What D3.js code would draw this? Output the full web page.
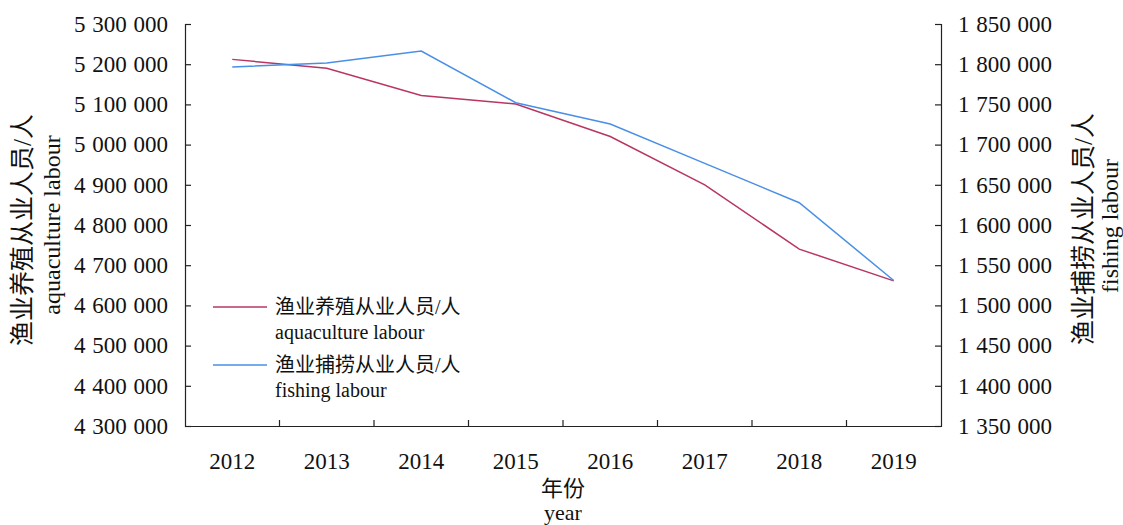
<!DOCTYPE html>
<html>
<head>
<meta charset="utf-8">
<script src="https://cdn.jsdelivr.net/npm/d3@7"></script>
<style>
    body { margin: 0; background: #fff; }
    text { font-family: "Liberation Serif", "Noto Sans CJK SC", serif; fill: #111; }
    .axis .domain, .axis line { stroke: #222; stroke-width: 1.2; }
    .axis text { font-size: 23px; word-spacing: 1px; }
</style>
</head>
<body>
<svg></svg>
<script>
'use strict';

var years = ["2012", "2013", "2014", "2015", "2016", "2017", "2018", "2019"];
var aquaculture = [5212000, 5190000, 5122000, 5101000, 5020000, 4900000, 4740000, 4661000];
var fishing = [1796500, 1801500, 1816400, 1752100, 1725600, 1676700, 1627700, 1531000];
var leftTicks = [4300000, 4400000, 4500000, 4600000, 4700000, 4800000, 4900000, 5000000, 5100000, 5200000, 5300000];
var rightTicks = [1350000, 1400000, 1450000, 1500000, 1550000, 1600000, 1650000, 1700000, 1750000, 1800000, 1850000];

var svgWidth = 1123,
    svgHeight = 525;
var margin = { top: 24, right: 182, bottom: 99, left: 185 };
var width = svgWidth - margin.left - margin.right;
var height = svgHeight - margin.top - margin.bottom;

var svg = d3.select("svg")
    .attr("width", svgWidth)
    .attr("height", svgHeight);

var g = svg.append("g")
    .attr("transform", "translate(" + margin.left + "," + margin.top + ")");

var x = d3.scaleBand().domain(years).range([0, width]);
var yLeft = d3.scaleLinear().domain([4300000, 5300000]).range([height, 0]);
var yRight = d3.scaleLinear().domain([1350000, 1850000]).range([height, 0]);

// numbers like 5 300 000
var fmt = function (d) { return d3.format(",")(d).replace(/,/g, " "); };

// bottom axis: ticks sit between the years
var xAxis = g.append("g")
    .attr("class", "axis x")
    .attr("transform", "translate(0," + height + ")")
    .call(d3.axisBottom(x).tickSize(0).tickPadding(27));
xAxis.selectAll(".tick text").style("font-size", "23px").style("word-spacing", "0");
xAxis.selectAll(".sep")
    .data(years.slice(1))
    .enter().append("line")
    .attr("class", "sep")
    .attr("x1", function (d) { return x(d) })
    .attr("x2", function (d) { return x(d) })
    .attr("y1", 0)
    .attr("y2", -6);

g.append("g")
    .attr("class", "axis y")
    .call(d3.axisLeft(yLeft).tickValues(leftTicks).tickFormat(fmt).tickSizeInner(-6).tickSizeOuter(-6).tickPadding(17));

g.append("g")
    .attr("class", "axis y2")
    .attr("transform", "translate(" + width + ",0)")
    .call(d3.axisRight(yRight).tickValues(rightTicks).tickFormat(fmt).tickSizeInner(-6).tickSizeOuter(-6).tickPadding(17));

var lineLeft = d3.line()
    .x(function (d, i) { return x(years[i]) + x.bandwidth() / 2 })
    .y(function (d) { return yLeft(d) });

var lineRight = d3.line()
    .x(function (d, i) { return x(years[i]) + x.bandwidth() / 2 })
    .y(function (d) { return yRight(d) });

g.append("path")
    .datum(aquaculture)
    .attr("fill", "none")
    .attr("stroke", "#b8365f")
    .attr("stroke-width", 1.5)
    .attr("d", lineLeft);

g.append("path")
    .datum(fishing)
    .attr("fill", "none")
    .attr("stroke", "#4a8fe6")
    .attr("stroke-width", 1.5)
    .attr("d", lineRight);

// axis titles
svg.append("text")
    .attr("transform", "translate(" + (margin.left + width / 2) + ",488)")
    .attr("text-anchor", "middle")
    .attr("dy", "0.35em")
    .style("font-size", "22px")
    .text("年份");
svg.append("text")
    .attr("transform", "translate(" + (margin.left + width / 2) + ",512)")
    .attr("text-anchor", "middle")
    .attr("dy", "0.35em")
    .style("font-size", "22px")
    .text("year");

svg.append("text")
    .attr("transform", "translate(22,230) rotate(-90)")
    .attr("text-anchor", "middle")
    .attr("dy", "0.35em")
    .style("font-size", "25px")
    .text("渔业养殖从业人员/人");
svg.append("text")
    .attr("transform", "translate(52,225) rotate(-90)")
    .attr("text-anchor", "middle")
    .attr("dy", "0.35em")
    .style("font-size", "24px")
    .text("aquaculture labour");

svg.append("text")
    .attr("transform", "translate(1083,229) rotate(-90)")
    .attr("text-anchor", "middle")
    .attr("dy", "0.35em")
    .style("font-size", "25px")
    .text("渔业捕捞从业人员/人");
svg.append("text")
    .attr("transform", "translate(1110,226) rotate(-90)")
    .attr("text-anchor", "middle")
    .attr("dy", "0.35em")
    .style("font-size", "24px")
    .text("fishing labour");

// legend
var legendItems = [
    { zh: "渔业养殖从业人员/人", en: "aquaculture labour", color: "#b8365f" },
    { zh: "渔业捕捞从业人员/人", en: "fishing labour", color: "#4a8fe6" }
];

var legend = svg.selectAll(".legend")
    .data(legendItems)
    .enter().append("g")
    .attr("class", "legend")
    .attr("transform", function (d, i) { return "translate(213," + (307 + i * 58) + ")" });

legend.append("line")
    .attr("x1", 0).attr("x2", 54)
    .attr("stroke", function (d) { return d.color })
    .attr("stroke-width", 1.5);
legend.append("text")
    .attr("x", 62)
    .attr("dy", "0.35em")
    .style("font-size", "20px")
    .text(function (d) { return d.zh });
legend.append("text")
    .attr("x", 62)
    .attr("y", 25)
    .attr("dy", "0.35em")
    .style("font-size", "20px")
    .text(function (d) { return d.en });
</script>
</body>
</html>
